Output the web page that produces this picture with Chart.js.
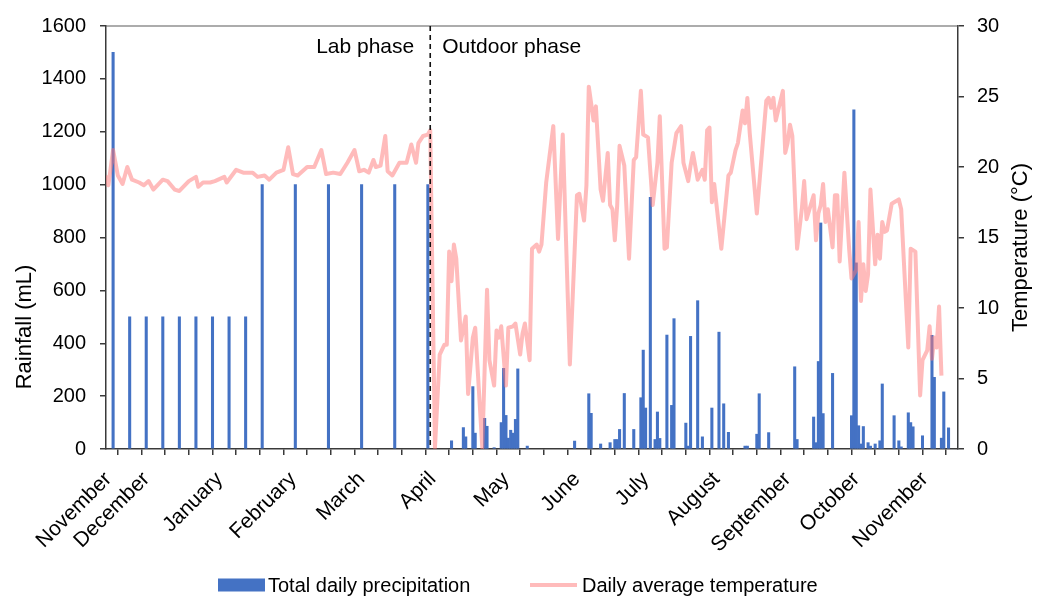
<!DOCTYPE html>
<html>
<head>
<meta charset="utf-8">
<title>Rainfall and temperature – lab and outdoor phases</title>
<script src="https://cdn.jsdelivr.net/npm/chart.js@4.4.1/dist/chart.umd.min.js"></script>
<style>
  html, body { margin: 0; padding: 0; background: #fff; }
  #wrap { width: 1037px; height: 599px; }
</style>
</head>
<body>
<div id="wrap"><canvas id="weatherChart" width="1037" height="599"></canvas></div>
<script>
// Days are counted from the start of the lab phase (mid November)
const labRainDays   = [3, 10, 17, 24, 31, 38, 45, 52, 59, 66, 80, 94, 108, 122, 136];
const labRainValues = [1500, 500, 500, 500, 500, 500, 500, 500, 500, 1000, 1000, 1000, 1000, 1000, 1000];

const outdoorRainDays = [146, 151, 152, 155, 156, 160, 161, 164, 167, 168, 169, 170, 171, 172, 173, 174, 178,
  198, 204, 205, 209, 213, 215, 216, 217, 219, 223, 226, 227, 228, 230, 232, 233, 234, 237, 239, 240,
  245, 246, 247, 250, 252, 256, 259, 261, 263, 270, 271, 275, 276, 280, 291, 292, 299, 300, 301, 302, 303,
  307, 315, 316, 317, 318, 319, 320, 322, 323, 325, 327, 328, 333, 335, 336, 339, 340, 341, 345, 349, 350,
  353, 354, 356];
const outdoorRainValues = [31, 81, 46, 236, 60, 116, 86, 5, 100, 305, 127, 41, 71, 60, 112, 303, 11,
  30, 209, 135, 19, 24, 36, 36, 74, 210, 74, 194, 374, 155, 952, 36, 140, 40, 431, 165, 493,
  98, 11, 426, 561, 46, 155, 442, 171, 63, 11, 11, 56, 209, 62, 311, 36, 121, 24, 331, 855, 134,
  286, 126, 1283, 704, 88, 19, 85, 24, 11, 19, 31, 246, 126, 31, 8, 137, 100, 84, 50, 430, 271,
  41, 216, 80];

const tempDays = [0, 1, 3, 5, 7, 9, 11, 14, 16, 18, 20, 24, 26, 29, 31, 35, 38, 39, 41, 44, 46, 50, 51,
  55, 58, 62, 64, 67, 69, 72, 75, 77, 79, 81, 83, 85, 88, 91, 93, 96, 99, 102, 105, 107, 109, 111, 113,
  114, 116, 118, 119, 121, 124, 127, 129, 131, 132, 134, 136, 137,
  139, 141, 143, 144, 145, 146, 147, 148, 150, 152, 153, 155, 156, 159, 161, 162, 164, 165, 166, 167,
  169, 170, 172, 173, 175, 176, 177, 179, 180, 182, 183, 184, 186, 189, 191, 193, 196, 199, 200, 202,
  203, 204, 206, 207, 209, 210, 212, 213, 214, 215, 216, 217, 219, 221, 223, 224, 226, 227, 229, 231,
  233, 234, 236, 237, 239, 241, 243, 244, 246, 247, 248, 250, 252, 253, 254, 255, 256, 257, 260, 263,
  264, 266, 267, 269, 270, 271, 272, 275, 276, 279, 280, 281, 282, 283, 284, 286, 287, 288, 289, 290,
  292, 294, 295, 296, 299, 300, 301, 302, 303, 304, 305, 307, 308, 309, 310, 312, 314, 315, 317, 318,
  319, 320, 321, 322, 323, 325, 326, 327, 328, 329, 330, 332, 333, 335, 336, 339, 340, 342, 344, 345,
  347, 348, 349, 350, 351, 352, 353];
const tempValues = [19.4, 18.7, 21.2, 19.4, 18.8, 20.0, 19.1, 18.9, 18.7, 19.0, 18.4, 19.1, 19.0, 18.4,
  18.3, 19.0, 19.3, 18.6, 18.9, 18.9, 19.0, 19.3, 18.9, 19.8, 19.6, 19.6, 19.3, 19.4, 19.1, 19.6, 19.8,
  21.4, 19.5, 19.4, 19.7, 20.0, 20.0, 21.2, 19.5, 19.6, 19.5, 20.3, 21.2, 19.7, 19.8, 19.6, 20.5, 20.0,
  20.1, 22.2, 19.7, 19.4, 20.3, 20.3, 21.6, 20.3, 21.7, 22.2, 22.3, 22.6,
  0.1, 6.7, 7.4, 7.4, 14.0, 11.9, 14.5, 13.5, 7.7, 9.4, 3.9, 7.9, 8.6, 0.1, 11.3, 6.3, 4.5, 8.4, 7.9, 8.7,
  4.5, 8.6, 8.7, 8.9, 6.7, 8.2, 8.9, 6.3, 14.2, 14.5, 14.0, 14.5, 18.9, 22.9, 14.9, 22.3, 6.0, 18.0, 18.1,
  16.2, 18.7, 25.7, 23.3, 24.3, 18.4, 17.6, 21.0, 17.3, 17.0, 14.8, 17.3, 21.5, 20.1, 13.5, 20.5, 20.7,
  25.4, 22.3, 22.1, 17.3, 20.3, 23.6, 14.2, 14.3, 20.3, 22.4, 22.9, 20.3, 19.0, 20.1, 21.0, 19.1, 19.8,
  19.1, 22.6, 22.8, 17.5, 18.8, 14.2, 19.4, 19.6, 21.2, 21.7, 24.0, 23.1, 24.9, 22.4, 16.7, 18.7, 24.7,
  24.9, 24.2, 24.9, 23.3, 24.0, 25.4, 21.0, 21.7, 23.0, 22.2, 14.2, 17.0, 19.0, 16.3, 18.0, 14.8, 16.7,
  17.3, 18.8, 16.1, 17.0, 14.3, 18.0, 18.0, 13.3, 19.6, 14.2, 12.1, 12.7, 16.1, 10.5, 13.1, 11.2, 12.4,
  18.4, 13.1, 15.2, 13.5, 16.1, 15.4, 15.5, 17.4, 17.5, 17.7, 17.0, 7.2, 14.2, 14.0, 3.8, 6.3, 7.0, 8.7,
  6.4, 7.9, 7.2, 10.1, 5.2];

const monthTickDays = [1, 17, 48, 79, 108, 138, 169, 199, 228, 258, 288, 317, 346];
const monthNames = ['November', 'December', 'January', 'February', 'March', 'April', 'May',
  'June', 'July', 'August', 'September', 'October', 'November'];

const phaseSplitDay = 137;
const totalDays = 360;

const fontFamily = '"Liberation Sans", Arial, Helvetica, sans-serif';
const axisColor = '#3a3a3a';
const barColor = '#4472C4';
const lineColor = 'rgba(255, 120, 120, 0.5)';

Chart.defaults.font.family = fontFamily;
Chart.defaults.font.size = 20;
Chart.defaults.color = '#000';

const rainPoints = labRainDays.concat(outdoorRainDays).map((d, i) => ({
  x: d,
  y: labRainValues.concat(outdoorRainValues)[i]
}));
const tempPoints = tempDays.map((d, i) => ({ x: d, y: tempValues[i] }));

// dashed phase divider, frame top, axis titles and the legend row
const phaseMarkers = {
  id: 'phaseMarkers',
  afterDatasetsDraw(chart) {
    const { ctx, chartArea: area, scales } = chart;
    const x = scales.x.getPixelForValue(phaseSplitDay);
    ctx.save();

    ctx.strokeStyle = '#5a5a5a';
    ctx.lineWidth = 1.2;
    ctx.beginPath();
    ctx.moveTo(area.left, area.top);
    ctx.lineTo(area.right, area.top);
    ctx.stroke();

    ctx.strokeStyle = '#111';
    ctx.lineWidth = 1.6;
    ctx.setLineDash([5, 4]);
    ctx.beginPath();
    ctx.moveTo(x, area.top);
    ctx.lineTo(x, area.bottom);
    ctx.stroke();
    ctx.setLineDash([]);

    ctx.fillStyle = '#000';
    ctx.font = '21px ' + fontFamily;
    ctx.textBaseline = 'alphabetic';
    ctx.textAlign = 'right';
    ctx.fillText('Lab phase', x - 16, area.top + 27);
    ctx.textAlign = 'left';
    ctx.fillText('Outdoor phase', x + 12, area.top + 27);

    ctx.font = '22px ' + fontFamily;
    ctx.textAlign = 'center';
    ctx.textBaseline = 'middle';

    ctx.save();
    ctx.translate(25, area.bottom - 122);
    ctx.rotate(-Math.PI / 2);
    ctx.fillText('Rainfall (mL)', 0, 0);
    ctx.restore();

    ctx.save();
    ctx.translate(1021, (area.top + area.bottom) / 2 + 10);
    ctx.rotate(-Math.PI / 2);
    ctx.fillText('Temperature (°C)', 0, 0);
    ctx.restore();

    // legend
    const legendY = 585;
    ctx.font = '20px ' + fontFamily;
    ctx.textAlign = 'left';
    ctx.fillStyle = barColor;
    ctx.fillRect(218, legendY - 6.5, 47, 13);
    ctx.fillStyle = '#000';
    ctx.fillText('Total daily precipitation', 268, legendY + 1);

    ctx.strokeStyle = lineColor;
    ctx.lineWidth = 4;
    ctx.beginPath();
    ctx.moveTo(530, legendY);
    ctx.lineTo(577, legendY);
    ctx.stroke();
    ctx.fillText('Daily average temperature', 582, legendY + 1);

    ctx.restore();
  }
};

const axisGrid = {
  drawOnChartArea: false,
  drawTicks: true,
  tickLength: 6,
  color: axisColor,
  lineWidth: 1.5
};
const axisBorder = { display: true, color: axisColor, width: 1.5 };
const plainNumber = value => String(value);

new Chart(document.getElementById('weatherChart'), {
  type: 'bar',
  data: {
    datasets: [
      {
        type: 'line',
        label: 'Daily average temperature',
        data: tempPoints,
        xAxisID: 'x',
        yAxisID: 'y1',
        borderColor: lineColor,
        borderWidth: 4,
        borderJoinStyle: 'round',
        pointRadius: 0,
        tension: 0,
        order: 0
      },
      {
        type: 'bar',
        label: 'Total daily precipitation',
        data: rainPoints,
        xAxisID: 'x',
        yAxisID: 'y',
        backgroundColor: barColor,
        barThickness: 2.4,
        grouped: false,
        order: 1
      }
    ]
  },
  options: {
    responsive: false,
    animation: false,
    devicePixelRatio: 1,
    layout: { padding: { top: 22, bottom: 0, left: 0, right: 0 } },
    plugins: {
      tooltip: { enabled: false },
      legend: { display: false }
    },
    scales: {
      x: {
        type: 'linear',
        position: 'bottom',
        weight: 0,
        min: 0,
        max: totalDays,
        offset: false,
        ticks: { display: false, stepSize: 10 },
        grid: axisGrid,
        border: axisBorder
      },
      xm: {
        type: 'linear',
        position: 'bottom',
        weight: 1,
        min: 0,
        max: totalDays,
        offset: false,
        grid: { display: false, drawTicks: false },
        border: { display: false },
        afterBuildTicks: scale => { scale.ticks = monthTickDays.map(v => ({ value: v })); },
        afterFit: scale => { scale.height = 144; },
        ticks: {
          autoSkip: false,
          maxRotation: 45,
          minRotation: 45,
          padding: 12,
          color: '#000',
          font: { size: 21 },
          callback: (value, index) => monthNames[index]
        }
      },
      y: {
        type: 'linear',
        position: 'left',
        min: 0,
        max: 1600,
        ticks: { stepSize: 200, padding: 14, color: '#000', callback: plainNumber },
        grid: axisGrid,
        border: axisBorder,
        afterFit: scale => { scale.width = 106; }
      },
      y1: {
        type: 'linear',
        position: 'right',
        min: 0,
        max: 30,
        ticks: { stepSize: 5, padding: 13, color: '#000', callback: plainNumber },
        grid: axisGrid,
        border: axisBorder,
        afterFit: scale => { scale.width = 79; }
      }
    }
  },
  plugins: [phaseMarkers]
});
</script>
</body>
</html>
